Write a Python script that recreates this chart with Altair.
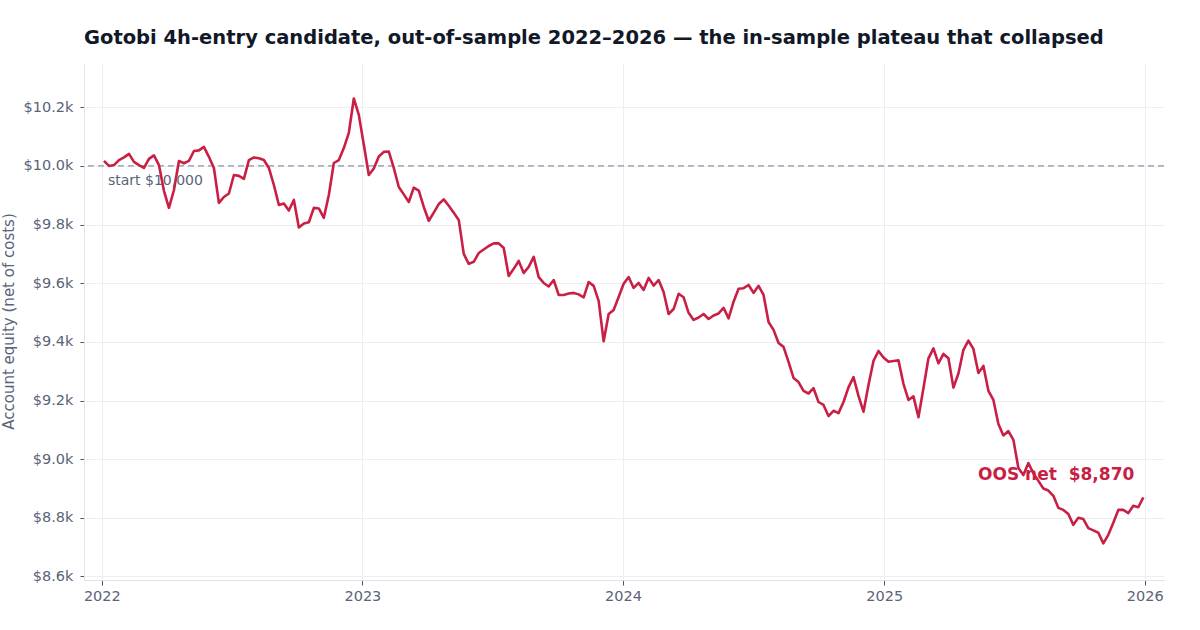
import altair as alt
import pandas as pd

# Weekly account equity, out-of-sample run (first week of 2022 to end of 2025)
start_date = "2022-01-04"
equity = [
    10017, 10000, 10003, 10020, 10029, 10041, 10014, 10003, 9993, 10024,
    10036, 10003, 9915, 9857, 9918, 10017, 10009, 10017, 10051, 10053,
    10065, 10031, 9993, 9874, 9894, 9906, 9969, 9966, 9956, 10020,
    10029, 10026, 10020, 9993, 9935, 9867, 9872, 9848, 9884, 9790,
    9804, 9808, 9857, 9855, 9823, 9901, 10010, 10020, 10061, 10113,
    10230, 10174, 10072, 9969, 9991, 10032, 10048, 10049, 9993, 9928,
    9903, 9877, 9926, 9916, 9860, 9813, 9841, 9870, 9886, 9864,
    9840, 9816, 9700, 9666, 9673, 9703, 9715, 9727, 9736, 9736,
    9720, 9625, 9649, 9676, 9635, 9656, 9690, 9621, 9601, 9589,
    9611, 9560, 9560, 9565, 9567, 9562, 9552, 9604, 9591, 9540,
    9402, 9495, 9509, 9553, 9598, 9621, 9584, 9601, 9577, 9618,
    9592, 9611, 9570, 9495, 9512, 9564, 9552, 9499, 9475, 9483,
    9495, 9478, 9490, 9497, 9516, 9480, 9537, 9581, 9583, 9594,
    9567, 9591, 9560, 9468, 9441, 9396, 9383, 9332, 9277, 9263,
    9233, 9224, 9242, 9195, 9185, 9147, 9165, 9157, 9195, 9245,
    9280, 9216, 9162, 9253, 9335, 9369, 9347, 9332, 9335, 9337,
    9257, 9202, 9214, 9143, 9242, 9344, 9378, 9327, 9359, 9344,
    9244, 9292, 9373, 9404, 9376, 9294, 9318, 9233, 9202, 9120,
    9081, 9096, 9066, 8970, 8946, 8987, 8952, 8926, 8900, 8893,
    8875, 8834, 8827, 8813, 8776, 8800, 8796, 8765, 8757, 8749,
    8713, 8742, 8783, 8827, 8827, 8816, 8841, 8836, 8870,
]
starting_balance = 10000
y_ticks = [8600, 8800, 9000, 9200, 9400, 9600, 9800, 10000, 10200]
x_years = [2022, 2023, 2024, 2025, 2026]

TITLE = "Gotobi 4h-entry candidate, out-of-sample 2022\u20132026 \u2014 the in-sample plateau that collapsed"
LINE_COLOR = "#c91f44"
TEXT_GREY = "#5a6478"
FONT = "DejaVu Sans"

dates = pd.date_range(start_date, periods=len(equity), freq="7D")
df = pd.DataFrame({"date": dates.strftime("%Y-%m-%d"), "equity": equity})

last = df.iloc[[-1]].copy()
last["label"] = "OOS net\u00a0 $" + last["equity"].map(lambda v: f"{v:,.0f}")

start_row = pd.DataFrame({
    "date": [df["date"].iloc[0]],
    "equity": [starting_balance],
    "label": [f"start ${starting_balance:,.0f}"],
})

x_scale = alt.Scale(domain=["2021-12-07", "2026-01-28"])
y_scale = alt.Scale(domain=[8588, 10351], nice=False, zero=False)

x_axis = alt.Axis(
    values=[alt.DateTime(year=y, month=1, date=1) for y in x_years],
    format="%Y", title=None, grid=True, gridColor="#eceef2",
    domainColor="#dfe3ea", tickColor="#4b5563", tickSize=5,
    labelFontSize=14.5, labelColor=TEXT_GREY, labelFont=FONT, labelPadding=4,
)
y_axis = alt.Axis(
    values=y_ticks,
    labelExpr='"$" + format(datum.value / 1000, ".1f") + "k"',
    title="Account equity (net of costs)", titleFontSize=15, titleFont=FONT,
    titleFontWeight="normal", titleColor=TEXT_GREY,
    titleX=-76, titleY=258, titleAngle=-90, titleAlign="center", titleBaseline="middle",
    grid=True, gridColor="#eceef2", domainColor="#dfe3ea", tickColor="#4b5563",
    tickSize=4, labelFontSize=14.5, labelColor=TEXT_GREY, labelFont=FONT, labelPadding=7,
)

line = alt.Chart(df).mark_line(color=LINE_COLOR, strokeWidth=2.6, strokeJoin="round").encode(
    x=alt.X("date:T", scale=x_scale, axis=x_axis),
    y=alt.Y("equity:Q", scale=y_scale, axis=y_axis),
)

baseline = alt.Chart(pd.DataFrame({"equity": [starting_balance]})).mark_rule(
    color="#8c96a8", strokeDash=[6, 4], strokeWidth=1.2
).encode(y=alt.Y("equity:Q", scale=y_scale))

start_label = alt.Chart(start_row).mark_text(
    align="left", baseline="middle", dx=4, dy=15, fontSize=14, font=FONT, color=TEXT_GREY
).encode(
    x=alt.X("date:T", scale=x_scale),
    y=alt.Y("equity:Q", scale=y_scale),
    text="label:N",
)

end_label = alt.Chart(last).mark_text(
    align="right", baseline="middle", dx=-9, dy=-22, fontSize=17, fontWeight="bold",
    font=FONT, color=LINE_COLOR
).encode(
    x=alt.X("date:T", scale=x_scale),
    y=alt.Y("equity:Q", scale=y_scale),
    text="label:N",
)

chart = (
    alt.layer(baseline, line, start_label, end_label)
    .properties(
        width=1080,
        height=517,
        title=alt.TitleParams(
            TITLE, anchor="start", frame="group", fontSize=19.5, fontWeight="bold",
            font=FONT, color="#111827", baseline="alphabetic", offset=0,
        ),
        autosize=alt.AutoSizeParams(type="none"),
        padding={"left": 84, "top": 63, "right": 36, "bottom": 50},
        background="white",
    )
    .configure_view(strokeWidth=0)
)

chart.save("out.html", embed_options={"renderer": "svg", "actions": False})
